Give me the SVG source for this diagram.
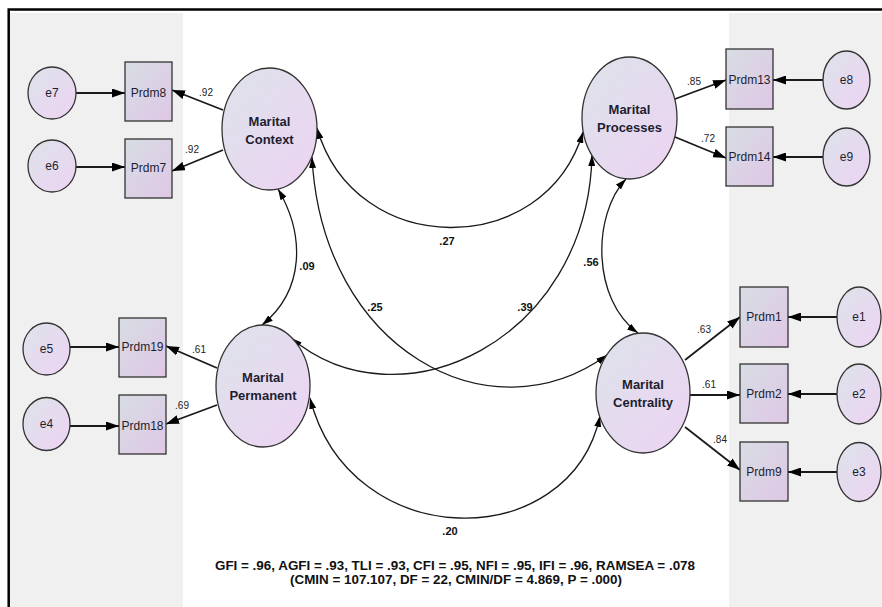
<svg xmlns="http://www.w3.org/2000/svg" width="882" height="607" viewBox="0 0 882 607">
<style>
.node{stroke:#333;stroke-width:1.3;}
.lat{fill:url(#gL);}
.obs{fill:url(#gO);}
.err{fill:url(#gL);}
.t{font-family:"Liberation Sans",Arial,sans-serif;fill:#1e1e30;text-anchor:middle;}
.tl{font-size:13px;font-weight:bold;}
.to{font-size:12px;}
.coef{font-family:"Liberation Sans",Arial,sans-serif;font-size:10px;fill:#222;text-anchor:middle;}
.cov{font-family:"Liberation Sans",Arial,sans-serif;font-size:11px;font-weight:bold;fill:#111;text-anchor:middle;}
.fit{font-family:"Liberation Sans",Arial,sans-serif;font-size:12px;font-weight:bold;fill:#111;text-anchor:middle;}
.ld{stroke:#1a1a1a;stroke-width:1.8;fill:none;marker-end:url(#ahL);}
.cv{stroke:#1a1a1a;stroke-width:1.3;fill:none;marker-start:url(#ahC);marker-end:url(#ahC);}
</style>
<defs>
<linearGradient id="gL" x1="0" y1="0" x2="1" y2="1">
<stop offset="0" stop-color="#dde3ea"/>
<stop offset="1" stop-color="#edd3f3"/>
</linearGradient>
<linearGradient id="gO" x1="0" y1="0" x2="1" y2="1">
<stop offset="0" stop-color="#d7dde3"/>
<stop offset="1" stop-color="#dfc7e6"/>
</linearGradient>
<marker id="ahL" markerUnits="userSpaceOnUse" markerWidth="13" markerHeight="9" viewBox="0 0 13 9" refX="13" refY="4.5" orient="auto">
<path d="M0,0 L13,4.5 L0,9 z" fill="#000"/>
</marker>
<marker id="ahC" markerUnits="userSpaceOnUse" markerWidth="11" markerHeight="7" viewBox="0 0 11 7" refX="11" refY="3.5" orient="auto-start-reverse">
<path d="M0,0 L11,3.5 L0,7 z" fill="#000"/>
</marker>
</defs>
<rect x="0" y="0" width="882" height="607" fill="#fff"/>
<rect x="10" y="13" width="173" height="594" fill="#f0f0f0"/>
<rect x="729" y="13" width="153" height="594" fill="#f0f0f0"/>
<polyline points="8.7,607 8.7,9.5 882,9.5" fill="none" stroke="#000" stroke-width="2.5"/>

<g id="connectors">
<line class="ld" x1="76" y1="93" x2="125" y2="93"/>
<line class="ld" x1="76" y1="167" x2="125" y2="167"/>
<line class="ld" x1="70" y1="347" x2="119" y2="347"/>
<line class="ld" x1="70" y1="426" x2="119" y2="426"/>
<line class="ld" x1="823" y1="80" x2="773" y2="80"/>
<line class="ld" x1="823" y1="157" x2="773" y2="157"/>
<line class="ld" x1="837" y1="317" x2="788" y2="317"/>
<line class="ld" x1="837" y1="394" x2="788" y2="394"/>
<line class="ld" x1="837" y1="472" x2="788" y2="472"/>
<line class="ld" x1="223" y1="110" x2="172" y2="90"/>
<line class="ld" x1="223" y1="150" x2="172" y2="171"/>
<line class="ld" x1="217" y1="368" x2="166" y2="346"/>
<line class="ld" x1="217" y1="405" x2="166" y2="424"/>
<line class="ld" x1="675" y1="99" x2="726" y2="80"/>
<line class="ld" x1="675" y1="137" x2="726" y2="158"/>
<line class="ld" x1="685" y1="360" x2="740" y2="317"/>
<line class="ld" x1="690" y1="395" x2="740" y2="395"/>
<line class="ld" x1="685" y1="427" x2="740" y2="470"/>
<path class="cv" d="M317,128 C355,260 545,260 583,132"/>
<path class="cv" d="M312,157 C322,350 490,440 607,355"/>
<path class="cv" d="M592,155 C588,340 400,430 291,338"/>
<path class="cv" d="M278,189 C305,235 305,290 262,325"/>
<path class="cv" d="M626,179 C592,215 592,300 638,333"/>
<path class="cv" d="M310,398 C350,555 570,555 600,416"/>
<text class="coef" x="206" y="96">.92</text>
<text class="coef" x="192" y="153">.92</text>
<text class="coef" x="199" y="353">.61</text>
<text class="coef" x="182" y="409">.69</text>
<text class="coef" x="694" y="85">.85</text>
<text class="coef" x="708" y="142">.72</text>
<text class="coef" x="704" y="333">.63</text>
<text class="coef" x="709" y="388">.61</text>
<text class="coef" x="720" y="443">.84</text>
<text class="cov" x="447" y="245">.27</text>
<text class="cov" x="307" y="270">.09</text>
<text class="cov" x="375" y="311">.25</text>
<text class="cov" x="525" y="311">.39</text>
<text class="cov" x="591" y="266">.56</text>
<text class="cov" x="450" y="535">.20</text>
</g>

<g id="context"><ellipse class="node lat" cx="269.5" cy="129" rx="47.5" ry="61"/><text class="t tl" x="269.5" y="126">Marital</text><text class="t tl" x="269.5" y="144">Context</text></g>
<g id="processes"><ellipse class="node lat" cx="629.5" cy="118" rx="47.5" ry="61"/><text class="t tl" x="629.5" y="114">Marital</text><text class="t tl" x="629.5" y="132">Processes</text></g>
<g id="permanent"><ellipse class="node lat" cx="263" cy="386" rx="47" ry="61"/><text class="t tl" x="263" y="382">Marital</text><text class="t tl" x="263" y="400">Permanent</text></g>
<g id="centrality"><ellipse class="node lat" cx="643" cy="393" rx="47" ry="60"/><text class="t tl" x="643" y="389">Marital</text><text class="t tl" x="643" y="407">Centrality</text></g>

<g id="prdm8"><rect class="node obs" x="125" y="62" width="47" height="59"/><text class="t to" x="148.5" y="97">Prdm8</text></g>
<g id="prdm7"><rect class="node obs" x="125" y="139" width="47" height="59"/><text class="t to" x="148.5" y="172">Prdm7</text></g>
<g id="prdm19"><rect class="node obs" x="119" y="318" width="47" height="59"/><text class="t to" x="142.5" y="351">Prdm19</text></g>
<g id="prdm18"><rect class="node obs" x="119" y="395" width="47" height="59"/><text class="t to" x="142.5" y="430">Prdm18</text></g>
<g id="prdm13"><rect class="node obs" x="726" y="49" width="47" height="60"/><text class="t to" x="749.5" y="84">Prdm13</text></g>
<g id="prdm14"><rect class="node obs" x="726" y="127" width="47" height="59"/><text class="t to" x="749.5" y="161">Prdm14</text></g>
<g id="prdm1"><rect class="node obs" x="740" y="287" width="48" height="60"/><text class="t to" x="764" y="321">Prdm1</text></g>
<g id="prdm2"><rect class="node obs" x="740" y="364" width="48" height="59"/><text class="t to" x="764" y="398">Prdm2</text></g>
<g id="prdm9"><rect class="node obs" x="740" y="442" width="48" height="59"/><text class="t to" x="764" y="476">Prdm9</text></g>

<g id="e7"><ellipse class="node err" cx="52" cy="93" rx="24" ry="26"/><text class="t to" x="52" y="97">e7</text></g>
<g id="e6"><ellipse class="node err" cx="52" cy="166" rx="24" ry="26"/><text class="t to" x="52" y="170">e6</text></g>
<g id="e5"><ellipse class="node err" cx="46.5" cy="349" rx="23.5" ry="26"/><text class="t to" x="46.5" y="353">e5</text></g>
<g id="e4"><ellipse class="node err" cx="46.5" cy="424" rx="23.5" ry="26.5"/><text class="t to" x="46.5" y="428">e4</text></g>
<g id="e8"><ellipse class="node err" cx="846.5" cy="80" rx="23.5" ry="29"/><text class="t to" x="846.5" y="84">e8</text></g>
<g id="e9"><ellipse class="node err" cx="846.5" cy="157" rx="23.5" ry="29"/><text class="t to" x="846.5" y="161">e9</text></g>
<g id="e1"><ellipse class="node err" cx="859" cy="317" rx="22" ry="30"/><text class="t to" x="859" y="321">e1</text></g>
<g id="e2"><ellipse class="node err" cx="859" cy="394" rx="22" ry="30"/><text class="t to" x="859" y="398">e2</text></g>
<g id="e3"><ellipse class="node err" cx="859" cy="472" rx="22" ry="29.5"/><text class="t to" x="859" y="476">e3</text></g>

<text class="fit" x="455" y="570" textLength="480" lengthAdjust="spacingAndGlyphs">GFI = .96, AGFI = .93, TLI = .93, CFI = .95, NFI = .95, IFI = .96, RAMSEA = .078</text>
<text class="fit" x="456" y="584" textLength="332" lengthAdjust="spacingAndGlyphs">(CMIN = 107.107, DF = 22, CMIN/DF = 4.869, P = .000)</text>
</svg>
